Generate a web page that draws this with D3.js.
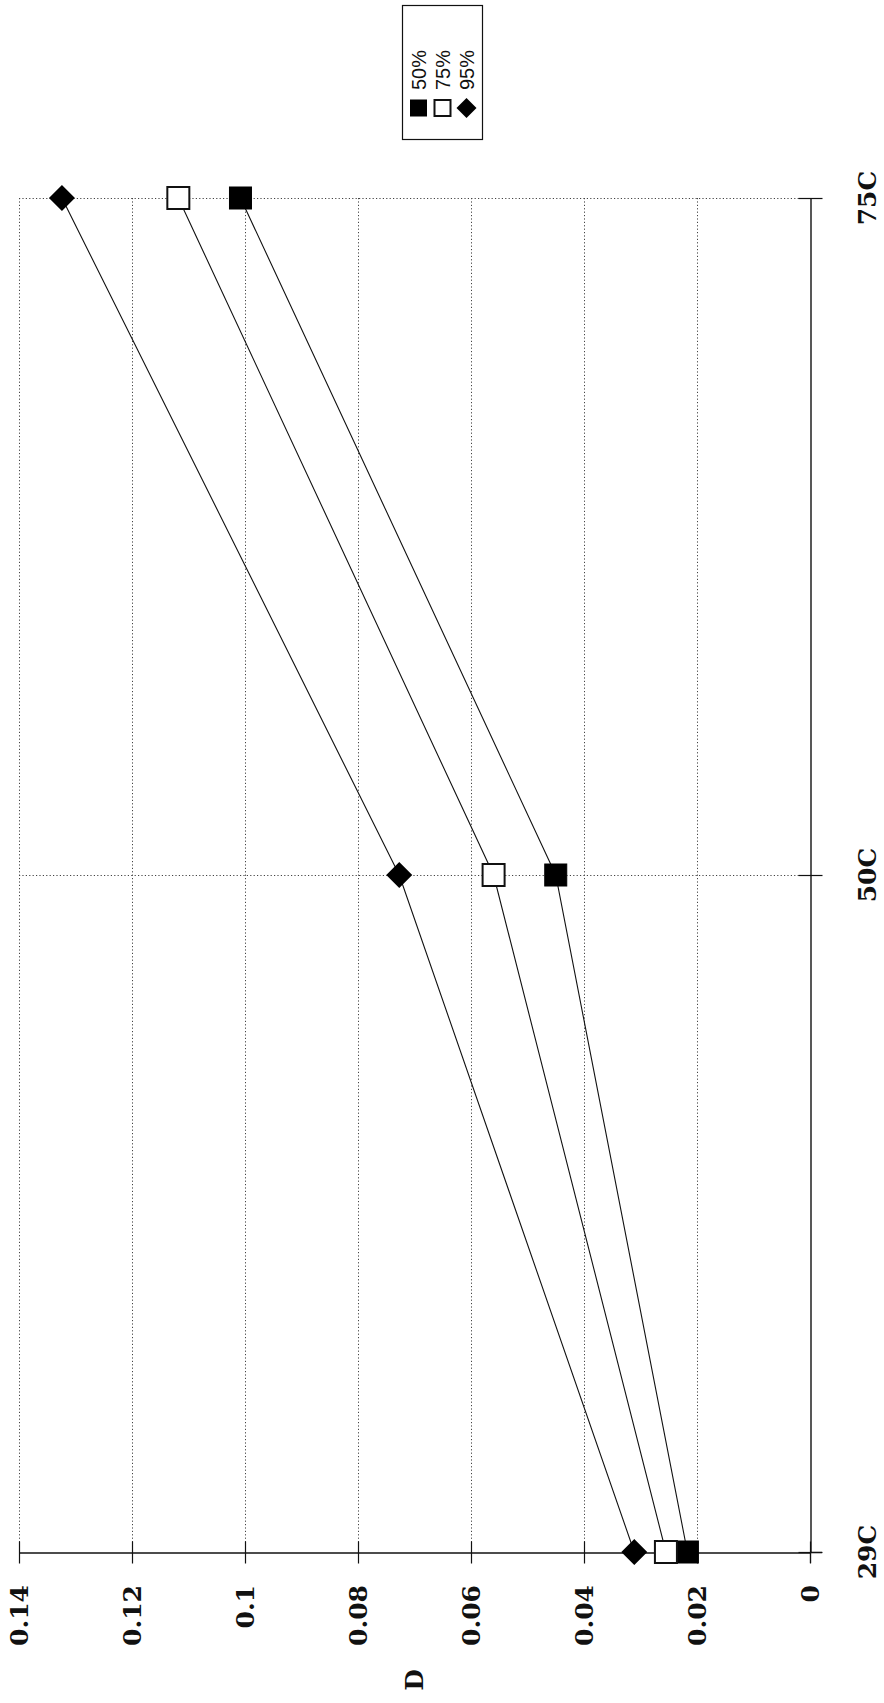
<!DOCTYPE html>
<html>
<head>
<meta charset="utf-8">
<script src="https://cdn.jsdelivr.net/npm/d3@7"></script>
<style>
  html, body { margin: 0; padding: 0; background: #fff; }
  svg { display: block; }
</style>
</head>
<body>
<svg id="chart" width="884" height="1703"></svg>
<script>
// ---- data ----
const categories = ["29C", "50C", "75C"];
const seriesNames = ["50%", "75%", "95%"];
const values50 = [0.0217, 0.045, 0.1008];
const values75 = [0.0255, 0.056, 0.1118];
const values95 = [0.0311, 0.0727, 0.1324];
const valueTicks = [0, 0.02, 0.04, 0.06, 0.08, 0.1, 0.12, 0.14];
const valueTickLabels = ["0", "0.02", "0.04", "0.06", "0.08", "0.1", "0.12", "0.14"];
const axisTitle = "D";

const series = [
  { name: seriesNames[0], values: values50, marker: "filledSquare" },
  { name: seriesNames[1], values: values75, marker: "openSquare" },
  { name: seriesNames[2], values: values95, marker: "diamond" }
];

const svg = d3.select("#chart");
const serif = "'DejaVu Serif', 'Liberation Serif', serif";
const sans = "'Liberation Sans', Arial, sans-serif";

// value axis runs horizontally (0 on the right), categories vertically (29C at bottom)
const x = d3.scaleLinear().domain([0, 0.14]).range([810, 19]);
const y = d3.scalePoint().domain(categories).range([1552, 198]);

const plotTop = y(categories[categories.length - 1]);
const plotBottom = y(categories[0]);

// gridlines
const grid = svg.append("g").attr("stroke", "#444").attr("stroke-width", 1)
  .attr("stroke-dasharray", "1.2,2.2");
grid.selectAll("line.v").data(valueTicks.filter(v => v > 0)).join("line")
  .attr("x1", d => Math.round(x(d)) + 0.5).attr("x2", d => Math.round(x(d)) + 0.5)
  .attr("y1", plotTop).attr("y2", plotBottom);
grid.selectAll("line.h").data(categories.slice(1)).join("line")
  .attr("x1", x(0.14)).attr("x2", x(0))
  .attr("y1", d => Math.round(y(d)) + 0.5).attr("y2", d => Math.round(y(d)) + 0.5);

// value axis (bottom, horizontal)
const vAxis = d3.axisBottom(x).tickValues(valueTicks).tickSize(0).tickFormat("");
const gV = svg.append("g").attr("transform", `translate(0,${plotBottom + 0.5})`).call(vAxis);
gV.select(".domain").attr("stroke", "#111").attr("stroke-width", 1.4);
gV.selectAll(".tick").append("line").attr("y1", -11).attr("y2", 11)
  .attr("stroke", "#111").attr("stroke-width", 1.2);
gV.append("line").attr("x1", x(0)).attr("x2", x(0) + 12).attr("stroke", "#111").attr("stroke-width", 1.4);

// category axis (right, vertical at value 0)
const cAxis = d3.axisRight(y).tickSize(0).tickFormat("");
const gC = svg.append("g").attr("transform", `translate(${x(0) + 0.5},0)`).call(cAxis);
gC.select(".domain").attr("stroke", "#111").attr("stroke-width", 1.4);
gC.selectAll(".tick").append("line").attr("x1", -12).attr("x2", 12)
  .attr("stroke", "#111").attr("stroke-width", 1.2);
gC.append("line").attr("y1", plotBottom).attr("y2", plotBottom + 11).attr("stroke", "#111").attr("stroke-width", 1.2);

// value tick labels (rotated)
svg.append("g").selectAll("text").data(valueTicks).join("text")
  .attr("transform", d => `translate(${x(d)},1585) rotate(-90)`)
  .attr("text-anchor", "end").attr("dominant-baseline", "central")
  .attr("font-family", serif).attr("font-weight", "bold").attr("font-size", 25)
  .attr("fill", "#111")
  .text((d, i) => valueTickLabels[i]);

// category labels
svg.append("g").selectAll("text").data(categories).join("text")
  .attr("transform", d => `translate(867,${y(d)}) rotate(-90)`)
  .attr("text-anchor", "middle").attr("dominant-baseline", "central")
  .attr("font-family", serif).attr("font-weight", "bold").attr("font-size", 25)
  .attr("fill", "#111")
  .text(d => d);

// axis title
svg.append("text")
  .attr("transform", `translate(${(x(0) + x(0.14)) / 2},1680) rotate(-90)`)
  .attr("text-anchor", "middle").attr("dominant-baseline", "central")
  .attr("font-family", serif).attr("font-weight", "bold").attr("font-size", 25)
  .attr("fill", "#111").text(axisTitle);

// lines
const line = d3.line().x(d => x(d.v)).y(d => y(d.c));
series.forEach(s => {
  const pts = categories.map((c, i) => ({ c, v: s.values[i] }));
  svg.append("path").datum(pts).attr("d", line)
    .attr("fill", "none").attr("stroke", "#111").attr("stroke-width", 1.1);
});

// markers
function drawMarker(g, type, cx, cy, size) {
  const h = size / 2;
  if (type === "filledSquare") {
    g.append("rect").attr("x", cx - h).attr("y", cy - h).attr("width", size).attr("height", size)
      .attr("fill", "#000").attr("stroke", "#000").attr("stroke-width", 1);
  } else if (type === "openSquare") {
    g.append("rect").attr("x", cx - h).attr("y", cy - h).attr("width", size).attr("height", size)
      .attr("fill", "#fff").attr("stroke", "#111").attr("stroke-width", 2);
  } else {
    const r = h + 2;
    g.append("path").attr("d", `M${cx},${cy - r}L${cx + r},${cy}L${cx},${cy + r}L${cx - r},${cy}Z`)
      .attr("fill", "#000");
  }
}
const gm = svg.append("g");
series.forEach(s => {
  categories.forEach((c, i) => drawMarker(gm, s.marker, x(s.values[i]), y(c), 22));
});

// legend (rotated with the chart), centred across the page width
const legendW = 80, legendH = 134;
const legendX = Math.round(884 / 2 - legendW / 2) + 0.5;
const lg = svg.append("g");
lg.append("rect").attr("x", legendX).attr("y", 5.5).attr("width", legendW).attr("height", legendH)
  .attr("fill", "#fff").attr("stroke", "#111").attr("stroke-width", 1.2);
series.forEach((s, i) => {
  const lx = legendX + 16 + i * 24;
  drawMarker(lg, s.marker, lx, 108, 16);
  lg.append("text")
    .attr("transform", `translate(${lx},90) rotate(-90)`)
    .attr("text-anchor", "start").attr("dominant-baseline", "central")
    .attr("font-family", sans).attr("font-size", 20).attr("fill", "#111")
    .text(s.name);
});
</script>
</body>
</html>
